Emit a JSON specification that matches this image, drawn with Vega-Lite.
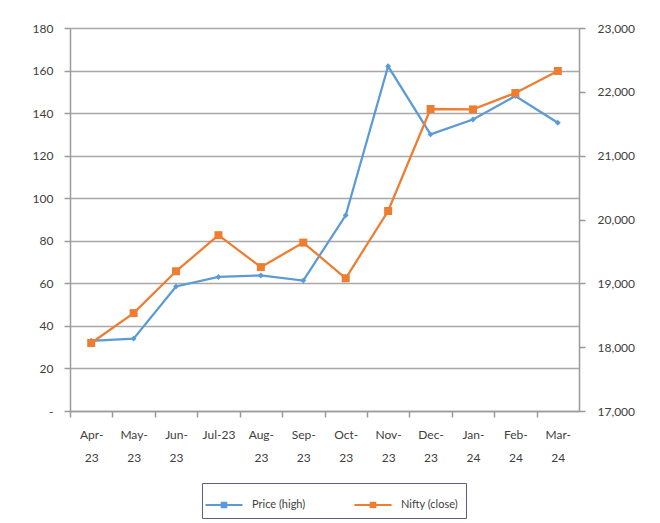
{
  "$schema": "https://vega.github.io/schema/vega-lite/v6.json",
  "width": 509,
  "height": 383,
  "autosize": {"type": "none"},
  "padding": {"left": 70, "top": 28, "right": 81, "bottom": 112},
  "background": "white",
  "config": {
    "font": "Lato",
    "view": {"stroke": null},
    "axis": {
      "labelFont": "Lato",
      "labelFontSize": 12,
      "labelColor": "#404040",
      "domainColor": "#9a9a9a",
      "domainWidth": 1.5,
      "tickColor": "#9a9a9a",
      "tickWidth": 1.5,
      "tickSize": 6,
      "gridColor": "#a8a8a8",
      "gridWidth": 1.3
    }
  },
  "data": {
    "values": [
      {"month": "Apr-23", "price": 33, "nifty": 18065},
      {"month": "May-23", "price": 34, "nifty": 18534},
      {"month": "Jun-23", "price": 58.5, "nifty": 19189},
      {"month": "Jul-23", "price": 63, "nifty": 19754},
      {"month": "Aug-23", "price": 63.7, "nifty": 19254},
      {"month": "Sep-23", "price": 61.3, "nifty": 19638},
      {"month": "Oct-23", "price": 92, "nifty": 19079},
      {"month": "Nov-23", "price": 162, "nifty": 20133},
      {"month": "Dec-23", "price": 130, "nifty": 21731},
      {"month": "Jan-24", "price": 137, "nifty": 21725},
      {"month": "Feb-24", "price": 148, "nifty": 21982},
      {"month": "Mar-24", "price": 135.5, "nifty": 22327}
    ]
  },
  "encoding": {
    "x": {
      "field": "month",
      "type": "ordinal",
      "sort": null,
      "title": null,
      "scale": {"type": "point", "padding": 0.5},
      "axis": {
        "orient": "bottom",
        "labelAngle": 0,
        "grid": false,
        "tickOffset": -21.2,
        "labelOffset": 21.2,
        "labelPadding": 12,
        "labelLineHeight": 23,
        "labelBaseline": "top",
        "labelExpr": "datum.value == 'Jul-23' ? datum.value : [slice(datum.value, 0, 4), slice(datum.value, 4)]"
      }
    }
  },
  "layer": [
    {
      "encoding": {
        "y": {
          "field": "price",
          "type": "quantitative",
          "title": null,
          "scale": {"domain": [0, 180], "nice": false},
          "axis": {
            "orient": "left",
            "values": [0, 20, 40, 60, 80, 100, 120, 140, 160, 180],
            "grid": true,
            "labelPadding": 11,
            "labelExpr": "datum.value == 0 ? '-' : datum.label"
          }
        }
      },
      "layer": [
        {"mark": {"type": "line", "color": "#5b9bd5", "strokeWidth": 2.25}},
        {
          "mark": {"type": "point", "shape": "diamond", "filled": true, "size": 35, "opacity": 1},
          "encoding": {
            "color": {
              "datum": "Price (high)",
              "type": "nominal",
              "scale": {"domain": ["Price (high)", "Nifty (close)"], "range": ["#5b9bd5", "#ed7d31"]},
              "legend": {
                "title": null,
                "orient": "none",
                "legendX": 132,
                "legendY": 455,
                "direction": "horizontal",
                "strokeColor": "#5a5f80",
                "padding": 8,
                "symbolType": "M-1.4,-0.08H1.4V0.08H-1.4Z M-0.25,-0.25H0.25V0.25H-0.25Z",
                "symbolSize": 700,
                "labelFontSize": 11,
                "labelColor": "#404040",
                "labelOffset": 14,
                "columnPadding": 48
              }
            }
          }
        }
      ]
    },
    {
      "encoding": {
        "y": {
          "field": "nifty",
          "type": "quantitative",
          "title": null,
          "scale": {"domain": [17000, 23000], "nice": false, "zero": false},
          "axis": {
            "orient": "right",
            "values": [17000, 18000, 19000, 20000, 21000, 22000, 23000],
            "labelExpr": "format(datum.value, ',')",
            "grid": false,
            "labelPadding": 12
          }
        }
      },
      "layer": [
        {"mark": {"type": "line", "color": "#ed7d31", "strokeWidth": 2.25}},
        {
          "mark": {"type": "point", "shape": "square", "filled": true, "size": 64, "opacity": 1},
          "encoding": {"color": {"datum": "Nifty (close)", "type": "nominal"}}
        }
      ]
    }
  ],
  "resolve": {"scale": {"y": "independent"}}
}
